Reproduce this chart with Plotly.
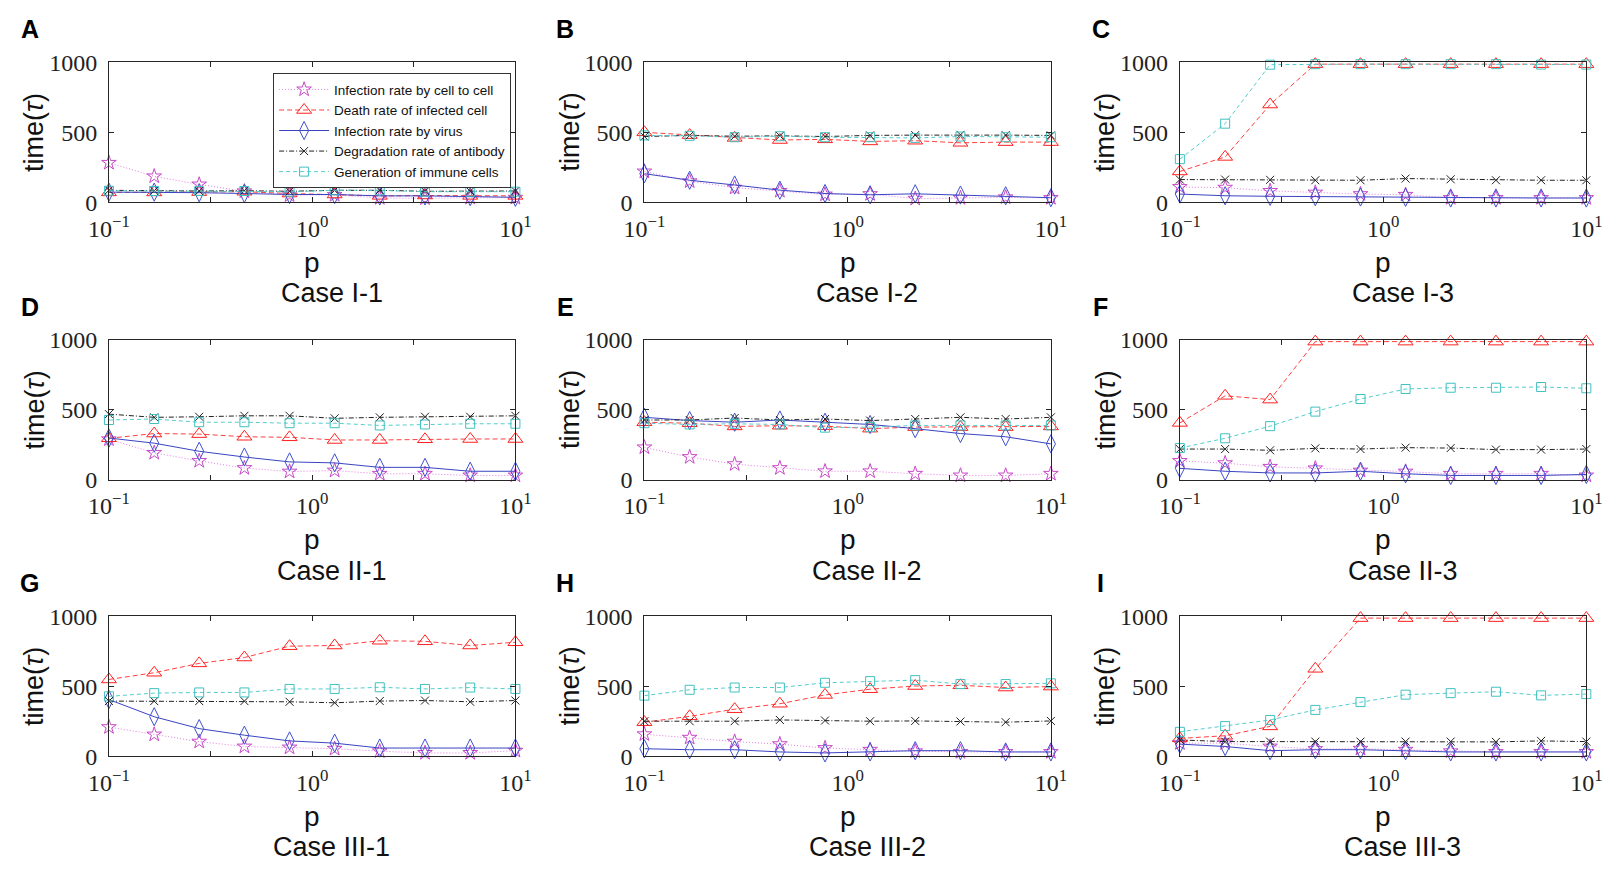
import plotly.graph_objects as go

# p values (x axis, log scale)
p = [0.1, 0.167, 0.278, 0.464, 0.774, 1.29, 2.15, 3.59, 5.99, 10.0]

x_tickvals = [0.1, 0.3162, 1, 3.162, 10]
x_ticktext = ["10<sup>\u22121</sup>", "", "10<sup>0</sup>", "", "10<sup>1</sup>"]
y_tickvals = [0, 500, 1000]

names = ["Infection rate by cell to cell", "Death rate of infected cell",
         "Infection rate by virus", "Degradation rate of antibody",
         "Generation of immune cells"]

# Case I-1
a_cell = [282, 185, 127, 78, 50, 52, 30, 28, 32, 32]
a_death = [70, 70, 72, 75, 62, 55, 45, 48, 45, 45]
a_virus = [72, 72, 68, 62, 55, 55, 45, 45, 40, 35]
a_antibody = [85, 82, 80, 82, 78, 85, 85, 78, 78, 80]
a_immune = [82, 80, 80, 80, 75, 85, 85, 75, 75, 75]
# Case I-2
b_cell = [220, 150, 104, 81, 55, 58, 25, 30, 35, 30]
b_death = [500, 480, 460, 445, 450, 435, 440, 425, 430, 430]
b_virus = [204, 157, 123, 86, 62, 53, 60, 51, 46, 32]
b_antibody = [470, 478, 472, 475, 470, 478, 480, 482, 480, 478]
b_immune = [478, 475, 465, 472, 465, 465, 460, 470, 465, 465]
# Case I-3
c_cell = [109, 104, 81, 69, 58, 53, 30, 30, 30, 30]
c_death = [220, 324, 699, 988, 988, 988, 988, 988, 988, 988]
c_virus = [58, 46, 42, 40, 37, 35, 30, 30, 30, 30]
c_antibody = [162, 162, 160, 157, 157, 169, 164, 157, 157, 157]
c_immune = [308, 562, 984, 988, 988, 988, 988, 988, 985, 985]
# Case II-1
d_cell = [289, 192, 134, 83, 58, 65, 42, 42, 30, 30]
d_death = [296, 330, 326, 307, 303, 284, 284, 289, 291, 291]
d_virus = [298, 261, 203, 162, 127, 120, 88, 88, 60, 60]
d_antibody = [469, 446, 450, 457, 457, 439, 446, 450, 450, 457]
d_immune = [427, 434, 411, 411, 404, 404, 388, 395, 400, 400]
# Case II-2
e_cell = [231, 162, 111, 83, 60, 60, 42, 30, 30, 42]
e_death = [411, 404, 381, 386, 383, 365, 376, 376, 376, 381]
e_virus = [446, 423, 411, 427, 411, 395, 365, 330, 307, 256]
e_antibody = [427, 427, 441, 427, 434, 423, 434, 446, 434, 446]
e_immune = [404, 395, 400, 395, 372, 376, 388, 388, 388, 388]
# Case II-3
f_cell = [134, 118, 92, 81, 65, 58, 42, 42, 42, 30]
f_death = [406, 600, 573, 988, 988, 988, 988, 988, 988, 988]
f_virus = [81, 60, 48, 48, 60, 42, 30, 30, 30, 37]
f_antibody = [219, 219, 210, 224, 219, 229, 226, 215, 215, 219]
f_immune = [226, 296, 383, 487, 577, 649, 658, 658, 663, 654]
# Case III-1
g_cell = [208, 155, 104, 69, 62, 53, 35, 23, 23, 39]
g_death = [549, 597, 664, 706, 787, 792, 826, 822, 792, 815]
g_virus = [405, 282, 197, 150, 109, 93, 58, 58, 58, 58]
g_antibody = [394, 394, 394, 394, 389, 382, 394, 398, 389, 398]
g_immune = [428, 451, 456, 456, 481, 481, 493, 481, 491, 481]
# Case III-2
h_cell = [157, 132, 104, 86, 58, 46, 35, 30, 30, 30]
h_death = [243, 285, 336, 375, 438, 479, 502, 507, 491, 498]
h_virus = [53, 46, 46, 30, 23, 30, 39, 39, 30, 30]
h_antibody = [250, 250, 250, 259, 255, 250, 252, 248, 243, 252]
h_immune = [433, 475, 491, 491, 525, 537, 544, 516, 516, 521]
# Case III-3
i_cell = [93, 93, 69, 51, 53, 46, 35, 30, 30, 30]
i_death = [127, 146, 213, 625, 988, 988, 988, 988, 988, 988]
i_virus = [86, 69, 39, 46, 46, 39, 30, 30, 30, 30]
i_antibody = [116, 104, 104, 104, 104, 104, 104, 102, 109, 104]
i_immune = [174, 215, 259, 331, 387, 440, 451, 461, 435, 444]

panels = [
    ("A", "Case I-1", [a_cell, a_death, a_virus, a_antibody, a_immune]),
    ("B", "Case I-2", [b_cell, b_death, b_virus, b_antibody, b_immune]),
    ("C", "Case I-3", [c_cell, c_death, c_virus, c_antibody, c_immune]),
    ("D", "Case II-1", [d_cell, d_death, d_virus, d_antibody, d_immune]),
    ("E", "Case II-2", [e_cell, e_death, e_virus, e_antibody, e_immune]),
    ("F", "Case II-3", [f_cell, f_death, f_virus, f_antibody, f_immune]),
    ("G", "Case III-1", [g_cell, g_death, g_virus, g_antibody, g_immune]),
    ("H", "Case III-2", [h_cell, h_death, h_virus, h_antibody, h_immune]),
    ("I", "Case III-3", [i_cell, i_death, i_virus, i_antibody, i_immune]),
]

# line / marker styles per series
line_colors = ["#e07ee0", "#ff4040", "#3a44c0", "#202020", "#55cccc"]
marker_colors = ["#c848c8", "#ff2020", "#4050d0", "#202020", "#40c0c0"]
dashes = ["1px,2px", "5px,3px", "solid", "5px,2px,1px,2px", "4px,3px"]
symbols = ["star-open", "triangle-up-open", "diamond-tall-open", "x-thin-open", "square-open"]
msizes = [11, 13, 13, 8, 9]

W, H = 1617, 871
col_left = [90, 638, 1186]
row_top = [51, 337, 622]
pw, ph = 416, 144

sans = "Liberation Sans, Arial, sans-serif"
serif = "Liberation Serif, Times New Roman, serif"
axis_color = "#262626"

fig = go.Figure()
annotations = []

for k, (letter, case, series) in enumerate(panels):
    r, c = divmod(k, 3)
    x0, y0 = col_left[c], row_top[r]
    xa = "x" if k == 0 else f"x{k + 1}"
    ya = "y" if k == 0 else f"y{k + 1}"
    for j, vals in enumerate(series):
        fig.add_trace(go.Scatter(
            x=p, y=vals, xaxis=xa, yaxis=ya, mode="lines+markers",
            name=names[j], showlegend=(k == 0), cliponaxis=False,
            line=dict(color=line_colors[j], width=1, dash=dashes[j]),
            marker=dict(symbol=symbols[j], size=msizes[j],
                        color=marker_colors[j], line=dict(width=1, color=marker_colors[j])),
        ))

    xd = [x0 / W, (x0 + pw) / W]
    yd = [1 - (y0 + ph) / H, 1 - y0 / H]
    fig.update_layout(**{
        ("xaxis" if k == 0 else f"xaxis{k + 1}"): dict(
            domain=xd, anchor=ya, type="log", range=[-1, 1],
            tickvals=x_tickvals, ticktext=x_ticktext,
            ticks="inside", ticklen=5, tickcolor=axis_color,
            showline=True, linecolor=axis_color, linewidth=1, mirror="ticks",
            showgrid=False, zeroline=False, ticklabelstandoff=5,
            tickfont=dict(family=serif, size=24, color="#222"),
        ),
        ("yaxis" if k == 0 else f"yaxis{k + 1}"): dict(
            domain=yd, anchor=xa, range=[0, 1000], tickvals=y_tickvals,
            ticks="inside", ticklen=5, tickcolor=axis_color,
            showline=True, linecolor=axis_color, linewidth=1, mirror="ticks",
            showgrid=False, zeroline=False, ticklabelstandoff=6,
            tickfont=dict(family=serif, size=24, color="#222"),
        ),
    })

    cx = (x0 + pw / 2) / W
    annotations += [
        dict(text=f"<b>{letter}</b>", x=(x0 - 81) / W, y=1 - (y0 - 34) / H,
             font=dict(family=sans, size=25, color="black")),
        dict(text="time(<i>\u03c4</i>)", x=(x0 - 76) / W, y=1 - (y0 + ph / 2) / H,
             textangle=-90, font=dict(family=sans, size=27, color="#111")),
        dict(text="p", x=cx, y=1 - (y0 + ph + 62) / H,
             font=dict(family=sans, size=28, color="#111")),
        dict(text=case, x=(x0 + pw / 2 + 20) / W, y=1 - (y0 + ph + 94) / H,
             font=dict(family=sans, size=27, color="#111")),
    ]

for a in annotations:
    a.update(xref="paper", yref="paper", showarrow=False, xanchor="center", yanchor="middle")

fig.update_layout(
    width=W, height=H,
    margin=dict(l=0, r=0, t=0, b=0),
    paper_bgcolor="white", plot_bgcolor="white",
    annotations=annotations,
    legend=dict(
        x=258 / W, y=1 - 62 / H, xanchor="left", yanchor="top",
        bgcolor="white", bordercolor="#333", borderwidth=1,
        font=dict(family=sans, size=13.5, color="#111"),
        itemwidth=50, tracegroupgap=0,
    ),
)

# drop the default 8px body margin so the figure sits at the page corner
fig.write_html("out.html", config={"displayModeBar": False},
               post_script="document.body.style.margin='0px';")
